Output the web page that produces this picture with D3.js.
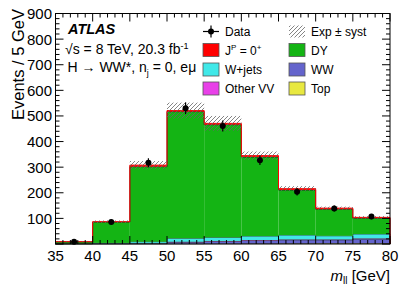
<!DOCTYPE html>
<html>
<head>
<meta charset="utf-8">
<script src="https://cdn.jsdelivr.net/npm/d3@7"></script>
<style>
body { margin: 0; background: #fff; }
svg { font-family: "Liberation Sans", Arial, sans-serif; }
</style>
</head>
<body>
<svg width="399" height="286"></svg>
<script>
// bins of m_ll (GeV)
var binEdges = [35, 40, 45, 50, 55, 60, 65, 70, 75, 80];
// stacked backgrounds, bottom to top
var top_ = [0.3, 0.3, 0.5, 1, 1.5, 2, 2.5, 3, 3];
var ww = [0.7, 1.5, 2, 6.5, 9, 11.5, 13.5, 13, 16.5];
var otherVV = [0.3, 0.5, 0.5, 1.5, 1.5, 2, 2, 2, 2.5];
var wjets = [1, 2, 6, 13.5, 14, 15.5, 17, 14, 17];
var dy = [6.3, 81.7, 293, 494.5, 440, 309, 176, 104, 62];
var higgs = [0.4, 1, 6, 4, 5, 5, 5, 4, 3];
var syst = [1.5, 5, 16, 31, 29, 16, 10, 6, 5];
var dataVals = [9, 86, 317, 530, 461, 327, 204, 139, 107];
var xTicks = [35, 40, 45, 50, 55, 60, 65, 70, 75, 80];
var yTicks = [100, 200, 300, 400, 500, 600, 700, 800, 900];

var svg = d3.select("svg");
var L = 55.5, R = 390, T = 13.5, B = 244;

var x = d3.scaleLinear().domain([35, 80]).range([L, R]);
var y = d3.scaleLinear().domain([0, 900]).range([B, T]);

var layers = [
  {key: "top", vals: top_, color: "#e8e840", line: "#333"},
  {key: "ww", vals: ww, color: "#6464cc", line: "#333"},
  {key: "vv", vals: otherVV, color: "#e840e8", line: "#333"},
  {key: "wj", vals: wjets, color: "#40e8e8", line: "#333"},
  {key: "dy", vals: dy, color: "#14b414", line: "#111"},
  {key: "h", vals: higgs, color: "#ff0000", line: "#ff0000"}
];

var rows = binEdges.slice(0, -1).map(function(lo, i) {
  var r = {lo: lo, hi: binEdges[i + 1]};
  layers.forEach(function(l) { r[l.key] = l.vals[i]; });
  return r;
});
var stacked = d3.stack().keys(layers.map(function(l) { return l.key; }))(rows);

var defs = svg.append("defs");
var pat = defs.append("pattern").attr("id", "hatch").attr("patternUnits", "userSpaceOnUse")
  .attr("width", 4).attr("height", 4);
pat.append("path").attr("d", "M-1,1 L1,-1 M0,4 L4,0 M3,5 L5,3")
  .attr("stroke", "#666").attr("stroke-width", 0.8);

var g = svg.append("g");

stacked.forEach(function(s, li) {
  var lay = layers[li];
  g.selectAll(".r" + li).data(s).enter().append("rect")
    .attr("x", function(d) { return x(d.data.lo); })
    .attr("width", function(d) { return x(d.data.hi) - x(d.data.lo); })
    .attr("y", function(d) { return y(d[1]); })
    .attr("height", function(d) { return y(d[0]) - y(d[1]); })
    .attr("fill", lay.color);
  // step outline on top of each layer
  var pts = [];
  s.forEach(function(d) { pts.push([d.data.lo, d[1]]); pts.push([d.data.hi, d[1]]); });
  g.append("path")
    .attr("d", d3.line().x(function(p) { return x(p[0]); }).y(function(p) { return y(p[1]); })(
      [[35, 0]].concat(pts).concat([[80, 0]])))
    .attr("fill", "none").attr("stroke", lay.line).attr("stroke-width", li == 5 ? 1 : 0.8);
});

// systematic band around total
var totals = stacked[stacked.length - 1].map(function(d) { return d[1]; });
g.selectAll(".band").data(rows).enter().append("rect")
  .attr("x", function(d) { return x(d.lo); })
  .attr("width", function(d) { return x(d.hi) - x(d.lo); })
  .attr("y", function(d, i) { return y(totals[i] + syst[i]); })
  .attr("height", function(d, i) { return y(totals[i] - syst[i]) - y(totals[i] + syst[i]); })
  .attr("fill", "url(#hatch)");

// data points
var centers = rows.map(function(d) { return (d.lo + d.hi) / 2; });
g.selectAll(".err").data(dataVals).enter().append("line")
  .attr("x1", function(d, i) { return x(centers[i]); })
  .attr("x2", function(d, i) { return x(centers[i]); })
  .attr("y1", function(d) { return y(d + Math.sqrt(d)); })
  .attr("y2", function(d) { return y(Math.max(0, d - Math.sqrt(d))); })
  .attr("stroke", "#000").attr("stroke-width", 1.2);
g.selectAll(".pt").data(dataVals).enter().append("circle")
  .attr("cx", function(d, i) { return x(centers[i]); })
  .attr("cy", function(d) { return y(d); })
  .attr("r", 3).attr("fill", "#000");

// frame and axes
svg.append("rect").attr("x", L).attr("y", T).attr("width", R - L).attr("height", B - T)
  .attr("fill", "none").attr("stroke", "#000").attr("stroke-width", 1);

var xMinor = d3.range(35, 81, 1);
var yMinor = d3.range(0, 901, 20);
var ax = svg.append("g").attr("stroke", "#000").attr("stroke-width", 1);
xMinor.forEach(function(v) {
  var len = v % 5 == 0 ? 8 : 4;
  ax.append("line").attr("x1", x(v)).attr("x2", x(v)).attr("y1", B).attr("y2", B - len);
  ax.append("line").attr("x1", x(v)).attr("x2", x(v)).attr("y1", T).attr("y2", T + len);
});
yMinor.forEach(function(v) {
  var len = v % 100 == 0 ? 8 : 4;
  ax.append("line").attr("x1", L).attr("x2", L + len).attr("y1", y(v)).attr("y2", y(v));
  ax.append("line").attr("x1", R).attr("x2", R - len).attr("y1", y(v)).attr("y2", y(v));
});

svg.selectAll(".xl").data(xTicks).enter().append("text")
  .attr("x", function(d) { return x(d); }).attr("y", 261)
  .attr("text-anchor", "middle").attr("font-size", 15).text(function(d) { return d; });
svg.selectAll(".yl").data(yTicks).enter().append("text")
  .attr("x", 52).attr("y", function(d) { return y(d) + 5.5; })
  .attr("text-anchor", "end").attr("font-size", 15).text(function(d) { return d; });

svg.append("text").attr("transform", "translate(24,9) rotate(-90)")
  .attr("text-anchor", "end").attr("font-size", 16.5).text("Events / 5 GeV");

var xt = svg.append("text").attr("x", 390).attr("y", 281).attr("text-anchor", "end").attr("font-size", 15);
xt.append("tspan").attr("font-style", "italic").text("m");
xt.append("tspan").attr("font-size", 10).attr("dy", 3).text("ll");
xt.append("tspan").attr("dy", -3).text(" [GeV]");

// labels
svg.append("text").attr("x", 68).attr("y", 33.5).attr("font-size", 14.5)
  .attr("font-weight", "bold").attr("font-style", "italic").text("ATLAS");
var t1 = svg.append("text").attr("x", 65).attr("y", 53.5).attr("font-size", 14);
t1.append("tspan").text("\u221As = 8 TeV, 20.3 fb");
t1.append("tspan").attr("font-size", 9).attr("dy", -5).text("-1");
var t2 = svg.append("text").attr("x", 67.5).attr("y", 72).attr("font-size", 14);
t2.append("tspan").text("H \u2192 WW*, n");
t2.append("tspan").attr("font-size", 9).attr("dy", 3.5).text("j");
t2.append("tspan").attr("dy", -3.5).text(" = 0, e\u03BC");

// legend
var leg = svg.append("g").attr("font-size", 12);
var ly = [31.5, 50, 69.5, 88.5];
// data entry
leg.append("line").attr("x1", 203).attr("x2", 219).attr("y1", ly[0]).attr("y2", ly[0]).attr("stroke", "#000").attr("stroke-width", 1.2);
leg.append("line").attr("x1", 211).attr("x2", 211).attr("y1", ly[0] - 6).attr("y2", ly[0] + 6).attr("stroke", "#000").attr("stroke-width", 1.2);
leg.append("circle").attr("cx", 211).attr("cy", ly[0]).attr("r", 3).attr("fill", "#000");
leg.append("text").attr("x", 225).attr("y", ly[0] + 4.5).text("Data");
// syst entry
leg.append("rect").attr("x", 289).attr("y", ly[0] - 6).attr("width", 16).attr("height", 12).attr("fill", "url(#hatch)");
leg.append("text").attr("x", 311).attr("y", ly[0] + 4.5).text("Exp \u00B1 syst");

var entries = [
  {c: "#ff0000", col: 0, row: 1, lab: "jp"},
  {c: "#14b414", col: 1, row: 1, lab: "DY"},
  {c: "#40e8e8", col: 0, row: 2, lab: "W+jets"},
  {c: "#6464cc", col: 1, row: 2, lab: "WW"},
  {c: "#e840e8", col: 0, row: 3, lab: "Other VV"},
  {c: "#e8e840", col: 1, row: 3, lab: "Top"}
];
entries.forEach(function(e) {
  var bx = e.col == 0 ? 203 : 289;
  leg.append("rect").attr("x", bx).attr("y", ly[e.row] - 6.5).attr("width", 16).attr("height", 13)
    .attr("fill", e.c).attr("stroke", "#555").attr("stroke-width", 0.8);
  var t = leg.append("text").attr("x", bx + 22).attr("y", ly[e.row] + 4.5);
  if (e.lab == "jp") {
    t.append("tspan").text("J");
    t.append("tspan").attr("font-size", 8).attr("dy", -5).text("P");
    t.append("tspan").attr("dy", 5).text(" = 0");
    t.append("tspan").attr("font-size", 8).attr("dy", -5).text("+");
  } else {
    t.text(e.lab);
  }
});
</script>
</body>
</html>
